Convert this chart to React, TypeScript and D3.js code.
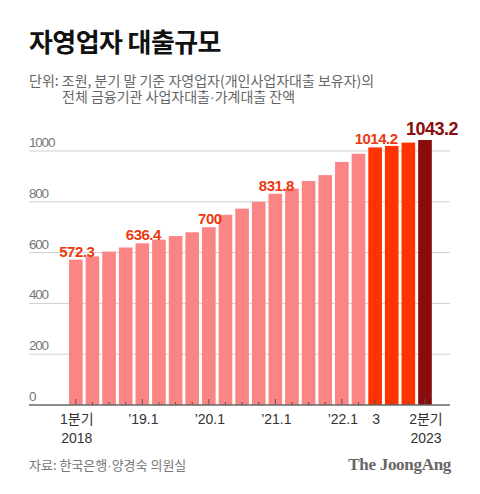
import React from "react";
import * as d3 from "d3";

// 분기 (2018 1분기 ~ 2023 2분기)
const quarters = [
	"18Q1", "18Q2", "18Q3", "18Q4",
	"19Q1", "19Q2", "19Q3", "19Q4",
	"20Q1", "20Q2", "20Q3", "20Q4",
	"21Q1", "21Q2", "21Q3", "21Q4",
	"22Q1", "22Q2", "22Q3", "22Q4",
	"23Q1", "23Q2",
];
// 잔액 (조원), 라벨 없는 값은 그림에서 추정
const loans = [
	572.3, 585, 604, 620,
	636.4, 651, 665, 680,
	700, 749, 773, 800,
	831.8, 852, 882, 905,
	957, 989, 1014.2, 1020,
	1033, 1043.2,
];
const labeled = ["18Q1", "19Q1", "20Q1", "21Q1", "22Q3", "23Q2"];
const yTicks = [0, 200, 400, 600, 800, 1000];
const xLabels: [string, string[]][] = [
	["18Q1", ["1분기", "2018"]],
	["19Q1", ["’19.1"]],
	["20Q1", ["’20.1"]],
	["21Q1", ["’21.1"]],
	["22Q1", ["’22.1"]],
	["22Q3", ["3"]],
	["23Q2", ["2분기", "2023"]],
];

const KR = "'Noto Sans CJK KR', 'Noto Sans', sans-serif";
const NUM = "'Liberation Sans', Arial, sans-serif";
const MIX = "'Liberation Sans', 'Noto Sans CJK KR', sans-serif";

function barColor(q: string) {
	if (q === "23Q2") return "#8a0c0c";
	if (q === "22Q3" || q === "22Q4" || q === "23Q1") return "#ff3300";
	return "#fb8484";
}

// 가운뎃점은 좁은 글꼴로
function dotted(s: string) {
	const parts = s.split("·");
	return parts.map((p, i) => (
		<React.Fragment key={i}>
			{i > 0 && <tspan fontFamily={NUM}>·</tspan>}
			<tspan>{p}</tspan>
		</React.Fragment>
	));
}

export default function App() {
	const width = 480,
		height = 494;
	const x = d3.scaleBand<string>().domain(quarters).range([67.5, 433.3]).paddingInner(0.18).paddingOuter(0.09);
	const y = d3.scaleLinear().domain([0, 1000]).range([405, 151]);
	const data = quarters.map((q, i) => ({ q, v: loans[i] }));
	const cx = (q: string) => (x(q) || 0) + x.bandwidth() / 2;

	return (
		<svg width={width} height={height} style={{ position: "absolute", left: 0, top: 0, background: "#fff" }}>
			<text x={29} y={52} fontFamily={KR} fontWeight={700} fontSize={26} letterSpacing={-0.6} fill="#111">
				자영업자 대출규모
			</text>
			<text fontFamily={KR} fontSize={14} fill="#666">
				<tspan x={29} y={86}>
					단위: 조원, 분기 말 기준 자영업자(개인사업자대출 보유자)의
				</tspan>
				<tspan x={62} y={102}>
					{dotted("전체 금융기관 사업자대출·가계대출 잔액")}
				</tspan>
			</text>

			{/* grid + y labels */}
			{yTicks.map((t) => (
				<g key={t}>
					{t > 0 && <line x1={29} x2={450} y1={y(t)} y2={y(t)} stroke="#cfcfcf" strokeWidth={1} />}
					<text x={29} y={y(t) - 4} fontFamily={NUM} fontSize={13.5} letterSpacing={-1.2} fill="#777">
						{t}
					</text>
				</g>
			))}

			{/* bars */}
			{data.map((d) => (
				<rect key={d.q} x={x(d.q)} y={y(d.v)} width={x.bandwidth()} height={y(0) - y(d.v)} fill={barColor(d.q)} />
			))}

			{/* ticks */}
			{data.map((d) => {
				const long = xLabels.some(([q]) => q === d.q);
				return (
					<line
						key={"t" + d.q}
						x1={cx(d.q)}
						x2={cx(d.q)}
						y1={y(0)}
						y2={y(0) - (long ? 6 : 3)}
						stroke="#555"
						strokeWidth={1}
					/>
				);
			})}
			<line x1={29} x2={450} y1={y(0)} y2={y(0)} stroke="#666" strokeWidth={1.5} />

			{/* value labels */}
			{data
				.filter((d) => labeled.includes(d.q))
				.map((d) => {
					const last = d.q === "23Q2";
					return (
						<text
							key={"v" + d.q}
							x={cx(d.q) + (last ? 7 : 1)}
							y={y(d.v) - (last ? 5 : 3)}
							textAnchor="middle"
							fontFamily={NUM}
							fontWeight={700}
							fontSize={last ? 18 : 15}
							letterSpacing={-0.5}
							fill={last ? "#8a0c0c" : "#ec3a10"}
						>
							{String(d.v)}
						</text>
					);
				})}

			{/* x labels */}
			{xLabels.map(([q, lines]) => (
				<text key={"x" + q} textAnchor="middle" fontFamily={MIX} fontSize={14} fill="#333">
					{lines.map((l, i) => (
						<tspan key={i} x={cx(q) + 1} y={424 + i * 19}>
							{l}
						</tspan>
					))}
				</text>
			))}

			<text x={29} y={470} fontFamily={KR} fontSize={13} fill="#777">
				{dotted("자료: 한국은행·양경숙 의원실")}
			</text>
			<text x={451} y={470} textAnchor="end" fontFamily="'Liberation Serif', serif" fontWeight={700} fontSize={17} letterSpacing={-0.3} fill="#666">
				The JoongAng
			</text>
		</svg>
	);
}
